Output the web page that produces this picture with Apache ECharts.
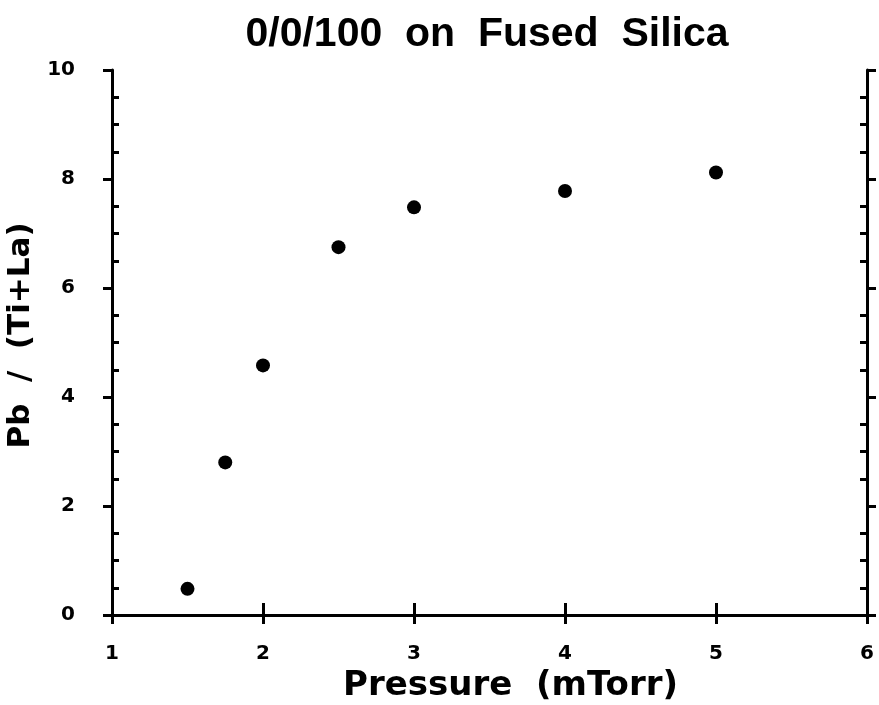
<!DOCTYPE html>
<html>
<head>
<meta charset="utf-8">
<script src="https://cdn.jsdelivr.net/npm/echarts@6/dist/echarts.min.js"></script>
<style>
  html, body { margin: 0; padding: 0; background: #fff; }
  #chart { width: 879px; height: 705px; }
</style>
</head>
<body>
<div id="chart"></div>
<script>
// pressure (mTorr) and composition ratio
const pressure = [1.5, 1.75, 2, 2.5, 3, 4, 5];
const ratio = [0.48, 2.8, 4.58, 6.75, 7.48, 7.78, 8.12];
// minor ticks on the y axes (between labelled ticks)
const yMinorTicks = [0.5, 1, 1.5, 2.5, 3, 3.5, 4.5, 5, 5.5, 6.5, 7, 7.5, 8.5, 9, 9.5];

const titleFont = "'Liberation Sans', Arial, sans-serif";
const font = "'DejaVu Sans', sans-serif";
const ink = "#000";

// major axis with outward ticks
function majorY(pos, showLabel) {
  return {
    type: "value",
    position: pos,
    min: 0,
    max: 10,
    interval: 2,
    splitLine: { show: false },
    axisLine: { show: true, lineStyle: { color: ink, width: 3 } },
    axisTick: { show: true, inside: false, length: 9, lineStyle: { color: ink, width: 3 } },
    axisLabel: {
      show: showLabel,
      margin: 37,
      color: ink,
      fontFamily: font,
      fontWeight: "bold",
      fontSize: 20
    }
  };
}
// overlay axis that only draws the small inward ticks
function minorY(pos) {
  return {
    type: "value",
    position: pos,
    min: 0,
    max: 10,
    interval: 2,
    splitLine: { show: false },
    axisLine: { show: false },
    axisTick: {
      show: true,
      inside: true,
      length: 7,
      customValues: yMinorTicks,
      lineStyle: { color: ink, width: 3 }
    },
    axisLabel: { show: false }
  };
}

const chart = echarts.init(document.getElementById("chart"));
chart.setOption({
  animation: false,
  backgroundColor: "#fff",
  title: {
    text: "0/0/100  on  Fused  Silica",
    left: 482,
    textAlign: "center",
    top: 9,
    textStyle: { fontFamily: titleFont, fontWeight: "bold", fontSize: 41, color: ink }
  },
  grid: { left: 112, right: 12, top: 70, bottom: 90, outerBoundsMode: "none" },
  xAxis: [
    {
      type: "value",
      position: "bottom",
      min: 1,
      max: 6,
      interval: 1,
      name: "Pressure  (mTorr)",
      nameLocation: "middle",
      nameGap: 42,
      nameTextStyle: {
        fontFamily: font,
        fontWeight: "bold",
        fontSize: 34,
        color: ink,
        padding: [0, 0, 0, 42]
      },
      splitLine: { show: false },
      axisLine: { show: true, lineStyle: { color: ink, width: 3 } },
      axisTick: { show: true, inside: false, length: 9, lineStyle: { color: ink, width: 3 } },
      axisLabel: { margin: 29, color: ink, fontFamily: font, fontWeight: "bold", fontSize: 20 }
    },
    {
      type: "value",
      position: "top",
      min: 1,
      max: 6,
      interval: 1,
      splitLine: { show: false },
      axisLine: { show: true, lineStyle: { color: ink, width: 3 } },
      axisTick: { show: true, inside: false, length: 12, lineStyle: { color: ink, width: 3 } },
      axisLabel: { show: false }
    }
  ],
  yAxis: [
    Object.assign(majorY("left", true), {
      name: "Pb  /  (Ti+La)",
      nameLocation: "middle",
      nameGap: 58,
      nameTextStyle: {
        fontFamily: font,
        fontWeight: "bold",
        fontSize: 31,
        color: ink,
        padding: [0, 0, 0, 14]
      }
    }),
    minorY("left"),
    majorY("right", false),
    minorY("right")
  ],
  series: [
    {
      type: "scatter",
      xAxisIndex: 0,
      yAxisIndex: 0,
      symbol: "circle",
      symbolSize: 14,
      itemStyle: { color: ink, opacity: 1 },
      data: pressure.map((p, i) => [p, ratio[i]])
    }
  ]
});
</script>
</body>
</html>
